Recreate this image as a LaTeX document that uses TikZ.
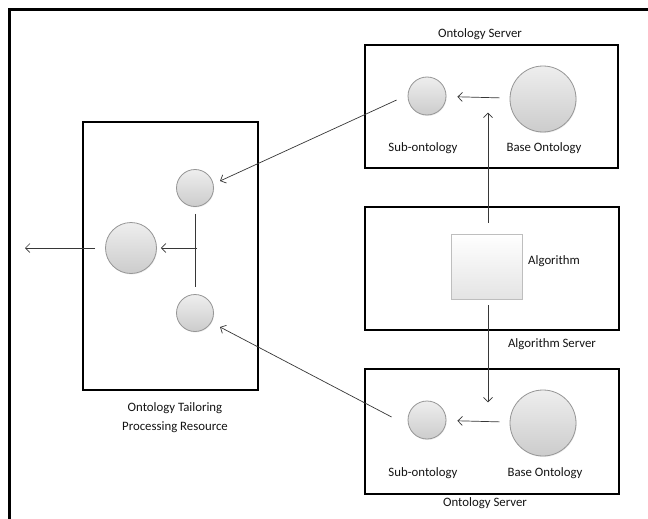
\documentclass[tikz,border=0pt]{standalone}
\usepackage{fontspec}
\setmainfont{Carlito}
\usetikzlibrary{arrows.meta,calc,shadows}
\definecolor{ballfill}{RGB}{204,204,204}
\definecolor{balltop}{RGB}{238,238,238}
\definecolor{ballline}{RGB}{150,150,150}
\definecolor{linkgray}{RGB}{55,55,55}
\tikzset{
  server/.style={draw=black, line width=1.8pt, rectangle, inner sep=0pt},
  onto/.style={circle, inner sep=0pt, draw=ballline, line width=0.8pt,
    top color=balltop, bottom color=ballfill, minimum size=#1,
    drop shadow={opacity=0.15, shadow xshift=0.6pt, shadow yshift=-1pt}},
  algbox/.style={rectangle, inner sep=0pt, draw={rgb,255:red,190;green,190;blue,190},
    line width=0.6pt, top color=white, bottom color={rgb,255:red,228;green,228;blue,228},
    drop shadow={opacity=0.25, shadow xshift=1pt, shadow yshift=-1.2pt},
    minimum width=71pt, minimum height=65pt},
  caption/.style={font=\fontsize{12.8}{19}\selectfont, inner sep=0pt, text=black!92},
  link/.style={draw=linkgray, line width=0.7pt,
    -{Straight Barb[length=4.5pt, width=9pt, line width=0.7pt]}},
  plain/.style={draw=linkgray, line width=0.7pt}
}
\begin{document}
\begin{tikzpicture}[x=1pt, y=-1pt]
  \useasboundingbox (0,0) rectangle (648,519);
  \fill[white] (0,0) rectangle (648,519);

  % outer frame (top and left edges)
  \draw[line width=2.6pt] (9.5,519) -- (9.5,9.5) -- (648,9.5);

  % boxes
  \node[server, minimum width=253pt, minimum height=123pt] (srvA) at (491.5,106.5) {};
  \node[server, minimum width=254pt, minimum height=123pt] (algsrv) at (492,268.5) {};
  \node[server, minimum width=254pt, minimum height=125pt] (srvB) at (492,431.5) {};
  \node[server, minimum width=175pt, minimum height=268pt] (tailor) at (170.5,256) {};

  % box captions
  \node[caption] (lblA) at (480,34) {Ontology Server};
  \node[caption] (lblalg) at (552,344) {Algorithm Server};
  \node[caption] (lblB) at (485,503) {Ontology Server};
  \node[caption, align=center] (lbltailor) at (175,417.5)
    {Ontology Tailoring\\Processing Resource};

  % upper ontology server
  \node[onto=38pt] (subA) at (427,96) {};
  \node[onto=66pt] (baseA) at (543,99) {};
  \node[caption] (subAl) at (423,148) {Sub-ontology};
  \node[caption] (baseAl) at (544,148) {Base Ontology};

  % algorithm server
  \node[algbox] (alg) at (486.5,266.5) {};
  \node[caption, anchor=west] (algl) at (528,261) {Algorithm};

  % lower ontology server
  \node[onto=38pt] (subB) at (427,420) {};
  \node[onto=66pt] (baseB) at (543,423) {};
  \node[caption] (subBl) at (423,473) {Sub-ontology};
  \node[caption] (baseBl) at (545,473) {Base Ontology};

  % tailoring resource
  \node[onto=37pt] (tA) at (195,188) {};
  \node[onto=51pt] (merged) at (131,248) {};
  \node[onto=37pt] (tB) at (195,313) {};
  \coordinate (join) at (195,248);
  \coordinate (out) at (25,248);

  % connectors
  \draw[link, shorten <=10pt, shorten >=11pt] (baseA) -- (subA);
  \draw[link, shorten <=10pt, shorten >=11pt] (baseB) -- (subB);
  \draw[link] ($(alg.north)+(1.5,-11)$) -- ($(alg.north)+(1.5,-121)$);
  \draw[link] ($(alg.south)+(1.5,6)$) -- ($(alg.south)+(1.5,103)$);
  \draw[link] ($(subA.west)+(-11,4)$) -- ($(tA)+(25,-7)$);
  \draw[link] ($(subB.west)+(-16,-3)$) -- ($(tB)+(25,14)$);
  \draw[plain, shorten <=7pt, shorten >=7pt] (tA) -- (tB);
  \draw[link, shorten <=-2pt, shorten >=4pt] (join) -- (merged);
  \draw[link, shorten <=10pt] (merged) -- (out);
\end{tikzpicture}
\end{document}
